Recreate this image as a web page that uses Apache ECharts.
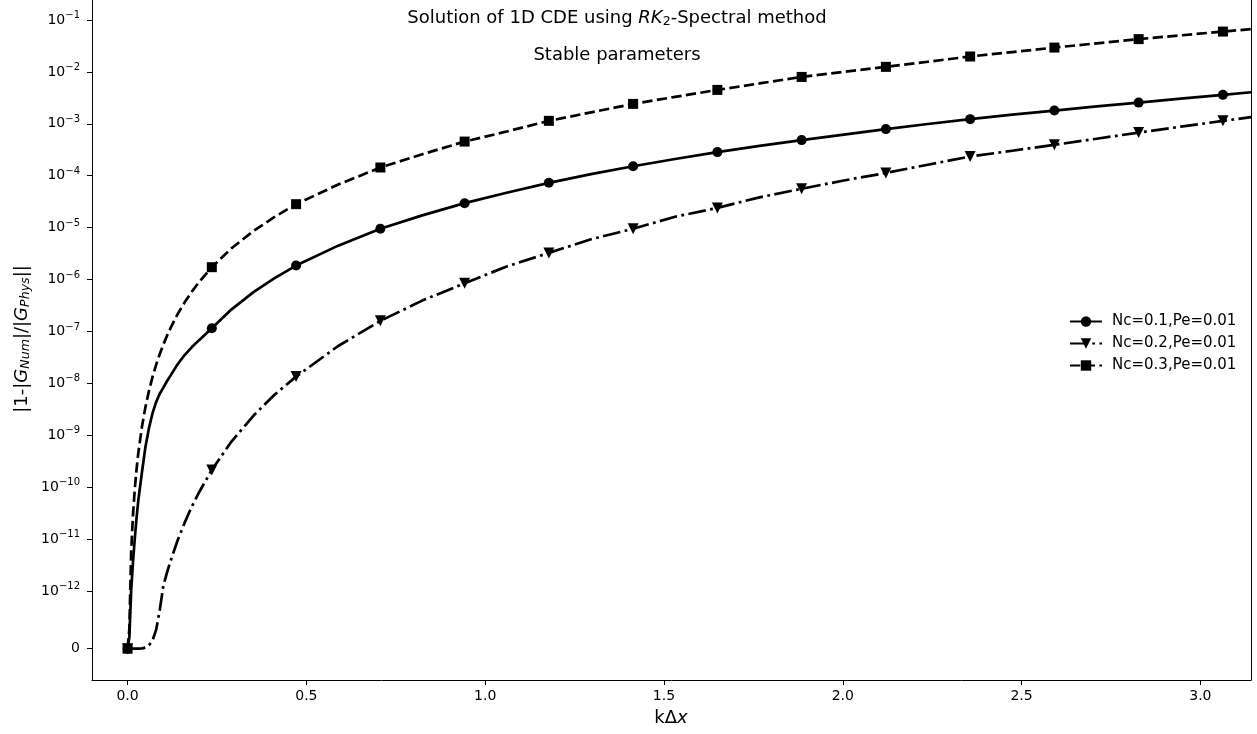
<!DOCTYPE html>
<html>
<head>
<meta charset="utf-8">
<script src="https://cdn.jsdelivr.net/npm/echarts@6/dist/echarts.min.js"></script>
<style>
  html, body { margin: 0; padding: 0; background: #fff; }
  #chart { width: 1257px; height: 734px; }
</style>
</head>
<body>
<div id="chart"></div>
<script>
// k*dx where the markers sit (every 30th sample of [0, pi])
const kMarks = [0, 0.2356, 0.4712, 0.7069, 0.9425, 1.1781, 1.4137, 1.6493, 1.8850, 2.1206, 2.3562, 2.5918, 2.8274, 3.0631];
const nc01Marks = [0, 1.15e-7, 1.86e-6, 9.5e-6, 2.96e-5, 7.3e-5, 1.52e-4, 2.85e-4, 4.85e-4, 7.9e-4, 1.23e-3, 1.8e-3, 2.56e-3, 3.61e-3];
const nc02Marks = [0, 2.15e-10, 1.35e-8, 1.6e-7, 8.5e-7, 3.26e-6, 9.5e-6, 2.4e-5, 5.6e-5, 1.13e-4, 2.34e-4, 3.93e-4, 6.78e-4, 1.14e-3];
const nc03Marks = [0, 1.73e-6, 2.83e-5, 1.44e-4, 4.55e-4, 1.14e-3, 2.42e-3, 4.5e-3, 8.0e-3, 1.25e-2, 1.98e-2, 2.94e-2, 4.28e-2, 5.98e-2];

// extra samples of the curves (no marker drawn)
const kCurve = [0.005, 0.01, 0.015, 0.02, 0.025, 0.03, 0.04, 0.05, 0.06, 0.07, 0.08, 0.09, 0.1,
  0.11, 0.12, 0.14, 0.16, 0.18, 0.2, 0.29, 0.353, 0.41, 0.589, 0.824, 1.06, 1.296, 1.531,
  1.767, 2.003, 2.238, 2.474, 2.71, 2.945, 3.1416];
const nc01Curve = [2.0e-13, 1.0e-12, 3.5e-12, 1.0e-11, 2.5e-11, 5.6e-11, 1.9e-10, 6.0e-10, 1.4e-9, 2.7e-9, 4.4e-9, 6.3e-9, 8.3e-9,
  1.1e-8, 1.41e-8, 2.34e-8, 3.55e-8, 5.0e-8, 6.8e-8, 2.64e-7, 5.8e-7, 1.05e-6, 4.5e-6, 1.72e-5, 4.7e-5, 1.07e-4, 2.1e-4,
  3.75e-4, 6.2e-4, 9.9e-4, 1.5e-3, 2.16e-3, 3.05e-3, 4.05e-3];
const nc02Curve = [0, 0, 0, 1e-16, 3e-16, 9e-16, 5e-15, 2e-14, 5.9e-14, 1.48e-13, 3.3e-13, 6.7e-13, 1.26e-12,
  2.23e-12, 3.75e-12, 9.5e-12, 2.1e-11, 4.3e-11, 8.0e-11, 7.5e-10, 2.43e-9, 5.97e-9, 5.25e-8, 3.93e-7, 1.78e-6, 5.96e-6, 1.62e-5,
  3.83e-5, 8.1e-5, 1.63e-4, 3.03e-4, 5.16e-4, 8.8e-4, 1.34e-3];
const nc03Curve = [3.5e-13, 5.6e-12, 2.84e-11, 9.0e-11, 2.19e-10, 4.55e-10, 1.44e-9, 3.5e-9, 7.3e-9, 1.35e-8, 2.3e-8, 3.68e-8, 5.6e-8,
  8.2e-8, 1.16e-7, 2.16e-7, 3.68e-7, 5.9e-7, 9.0e-7, 3.97e-6, 8.7e-6, 1.59e-5, 6.76e-5, 2.59e-4, 7.1e-4, 1.66e-3, 3.3e-3,
  6.0e-3, 1.0e-2, 1.57e-2, 2.41e-2, 3.55e-2, 5.06e-2, 6.65e-2];

const seriesNames = ['Nc=0.1,Pe=0.01', 'Nc=0.2,Pe=0.01', 'Nc=0.3,Pe=0.01'];
const xTicks = [0, 0.5, 1.0, 1.5, 2.0, 2.5, 3.0];
const yTicks = [0, 1e-12, 1e-11, 1e-10, 1e-9, 1e-8, 1e-7, 1e-6, 1e-5, 1e-4, 1e-3, 1e-2, 1e-1];
const yTickExp = [null, 12, 11, 10, 9, 8, 7, 6, 5, 4, 3, 2, 1];

// symlog scale like matplotlib (linthresh 1e-12, linscale 1)
const LINTHRESH = 1e-12;
const LINSCALE = 1 / (1 - 1 / 10);
function symlog(v) {
  if (v <= LINTHRESH) return (v / LINTHRESH) * LINSCALE;
  return LINSCALE + Math.log10(v / LINTHRESH);
}
const yTickPos = yTicks.map(symlog);

function buildPoints(marks, curve) {
  const pts = kMarks.map((k, i) => ({ value: [k, symlog(marks[i])] }));
  kCurve.forEach((k, i) => pts.push({ value: [k, symlog(curve[i])], symbol: 'none' }));
  pts.sort((a, b) => a.value[0] - b.value[0]);
  return pts;
}

const FONT = 'DejaVu Sans';
const chart = echarts.init(document.getElementById('chart'));

const option = {
  animation: false,
  backgroundColor: '#fff',
  grid: { left: 92, right: 6, top: 0, bottom: 54, containLabel: false },
  xAxis: {
    type: 'value',
    min: -0.0995,
    max: 3.1416,
    axisLine: { show: true, onZero: false, lineStyle: { color: '#000', width: 1 } },
    axisTick: { show: true, length: 5, lineStyle: { color: '#000' }, customValues: xTicks },
    axisLabel: {
      customValues: xTicks, margin: 9, color: '#000', fontFamily: FONT, fontSize: 14,
      formatter: v => v.toFixed(1)
    },
    splitLine: { show: false }
  },
  yAxis: [{
    type: 'value',
    min: -0.603,
    max: 12.496,
    axisLine: { show: true, onZero: false, lineStyle: { color: '#000', width: 1 } },
    axisTick: { show: true, length: 5, lineStyle: { color: '#000' }, customValues: yTickPos },
    axisLabel: {
      customValues: yTickPos, margin: 12, color: '#000', fontFamily: FONT, fontSize: 14,
      formatter: v => {
        let idx = 0, best = Infinity;
        yTickPos.forEach((p, i) => { if (Math.abs(p - v) < best) { best = Math.abs(p - v); idx = i; } });
        if (yTickExp[idx] === null) return '{b|0}';
        return '{b|10}{s|\u2212' + yTickExp[idx] + '}';
      },
      rich: {
        b: { fontFamily: FONT, fontSize: 14, color: '#000' },
        s: { fontFamily: FONT, fontSize: 10, color: '#000', padding: [0, 0, 9, 0] }
      }
    },
    splitLine: { show: false }
  }, {
    type: 'value',
    position: 'right',
    min: -0.603,
    max: 12.496,
    axisLine: { show: true, onZero: false, lineStyle: { color: '#000', width: 1 } },
    axisTick: { show: false },
    axisLabel: { show: false },
    splitLine: { show: false }
  }],
  legend: {
    orient: 'vertical',
    left: 1064,
    top: 309,
    itemWidth: 32,
    itemHeight: 13,
    itemGap: 7,
    textStyle: { fontFamily: FONT, fontSize: 15, color: '#000', padding: [0, 0, 0, 5] },
    data: seriesNames
  },
  series: [
    {
      name: seriesNames[0], type: 'line',
      data: buildPoints(nc01Marks, nc01Curve),
      symbol: 'circle', symbolSize: 10,
      lineStyle: { color: '#000', width: 2.7, type: 'solid' },
      itemStyle: { color: '#000' }
    },
    {
      name: seriesNames[1], type: 'line',
      data: buildPoints(nc02Marks, nc02Curve),
      symbol: 'triangle', symbolSize: 11, symbolRotate: 180,
      lineStyle: { color: '#000', width: 2.7, type: [17.8, 4.4, 2.8, 4.4] },
      itemStyle: { color: '#000' }
    },
    {
      name: seriesNames[2], type: 'line',
      data: buildPoints(nc03Marks, nc03Curve),
      symbol: 'rect', symbolSize: 10,
      lineStyle: { color: '#000', width: 2.7, type: [10.3, 4.4] },
      itemStyle: { color: '#000' }
    }
  ],
  graphic: [
    {
      type: 'text', x: 617, y: 18,
      style: {
        text: '{n|Solution of 1D CDE using }{i|RK}{sub|2}{n|-Spectral method}',
        align: 'center', verticalAlign: 'middle',
        rich: {
          n: { fontFamily: FONT, fontSize: 18, fill: '#000' },
          i: { fontFamily: FONT, fontSize: 18, fontStyle: 'italic', fill: '#000' },
          sub: { fontFamily: FONT, fontSize: 12.6, fill: '#000', padding: [8, 0, 0, 0] }
        }
      }
    },
    {
      type: 'text', x: 617, y: 55,
      style: {
        text: 'Stable parameters', align: 'center', verticalAlign: 'middle',
        font: '18px "DejaVu Sans"', fill: '#000'
      }
    },
    {
      type: 'text', x: 22, y: 339, rotation: Math.PI / 2,
      style: {
        text: '{n||1-|}{i|G}{s|Num}{n||/|}{i|G}{s|Phys}{n|||}',
        align: 'center', verticalAlign: 'middle',
        rich: {
          n: { fontFamily: FONT, fontSize: 18, fill: '#000' },
          i: { fontFamily: FONT, fontSize: 18, fontStyle: 'italic', fill: '#000' },
          s: { fontFamily: FONT, fontSize: 12.6, fontStyle: 'italic', fill: '#000', padding: [8, 0, 0, 0] }
        }
      }
    },
    {
      type: 'text', x: 671, y: 718,
      style: {
        text: '{n|k\u0394}{i|x}',
        align: 'center', verticalAlign: 'middle',
        rich: {
          n: { fontFamily: FONT, fontSize: 18, fill: '#000' },
          i: { fontFamily: FONT, fontSize: 18, fontStyle: 'italic', fill: '#000' }
        }
      }
    }
  ]
};

chart.setOption(option);
</script>
</body>
</html>
